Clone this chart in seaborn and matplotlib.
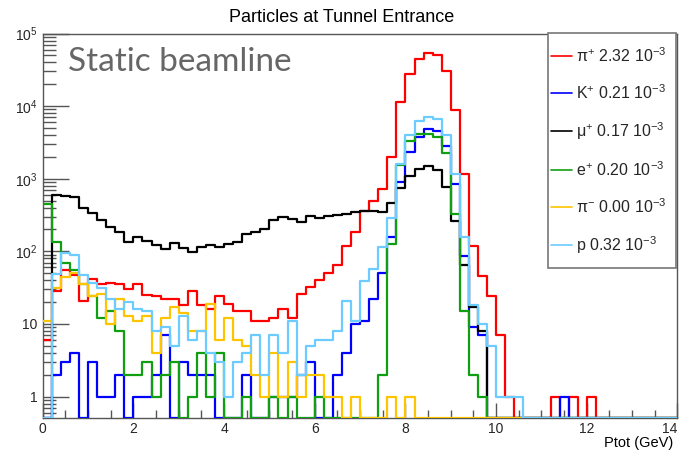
import numpy as np
import pandas as pd
import matplotlib
matplotlib.use("Agg")
import matplotlib.pyplot as plt
import seaborn as sns
from matplotlib.lines import Line2D
from matplotlib.patches import Rectangle
from matplotlib.ticker import FixedLocator, FixedFormatter, NullFormatter

# ---------------- data (counts per 0.2 GeV bin, 0 .. 14 GeV) ----------------
bin_width = 0.2
bin_edges = [round(0.2 * i, 1) for i in range(71)]
bin_centers = [e + bin_width / 2 for e in bin_edges[:-1]]

pi_plus = [6, 28, 56, 47, 21, 41, 35, 37, 35, 30,
           35, 25, 24, 22, 22, 18, 28, 18, 16, 24,
           19, 15, 15, 11, 11, 12, 16, 12, 26, 32,
           40, 51, 64, 119, 182, 362, 495, 714, 2012, 11500,
           27400, 44000, 53300, 50000, 30400, 8840, 1160, 118, 46, 24,
           7, 1, 0, 0, 0, 0, 1, 0, 1, 0,
           1, 0, 0, 0, 0, 0, 0, 0, 0, 0]
k_plus = [0, 2, 3, 4, 0, 3, 1, 1, 2, 0,
          1, 1, 2, 7, 0, 3, 2, 2, 2, 0,
          0, 0, 2, 0, 0, 1, 1, 1, 2, 3,
          0, 0, 2, 4, 10, 11, 22, 51, 159, 910,
          2355, 3790, 4880, 4580, 2820, 845, 87, 9, 7, 0,
          0, 0, 0, 0, 0, 0, 0, 1, 0, 0,
          0, 0, 0, 0, 0, 0, 0, 0, 0, 0]
mu_plus = [0, 603, 583, 554, 395, 334, 270, 218, 183, 133,
           159, 139, 122, 108, 131, 110, 97, 115, 124, 113,
           127, 136, 171, 183, 203, 270, 294, 276, 251, 310,
           285, 306, 316, 326, 351, 355, 355, 350, 458, 751,
           1100, 1346, 1513, 1325, 776, 264, 64, 17, 8, 0,
           0, 0, 0, 0, 0, 0, 0, 0, 0, 0,
           0, 0, 0, 0, 0, 0, 0, 0, 0, 0]
e_plus = [447, 136, 70, 55, 36, 24, 12, 15, 8, 2,
          2, 3, 1, 2, 3, 0, 1, 4, 1, 4,
          0, 0, 1, 0, 0, 1, 0, 1, 0, 0,
          1, 0, 0, 0, 0, 0, 0, 2, 126, 1545,
          3300, 4090, 4090, 3700, 2240, 326, 15, 2, 1, 0,
          0, 0, 0, 0, 0, 0, 0, 0, 0, 0,
          0, 0, 0, 0, 0, 0, 0, 0, 0, 0]
pi_minus = [11, 31, 44, 51, 36, 24, 26, 10, 22, 13,
            11, 13, 4, 12, 17, 14, 8, 8, 19, 6,
            12, 6, 5, 2, 1, 4, 1, 3, 1, 2,
            2, 1, 1, 0, 1, 0, 0, 0, 1, 0,
            1, 0, 0, 0, 0, 0, 0, 0, 0, 0,
            0, 0, 0, 0, 0, 0, 0, 0, 0, 0,
            0, 0, 0, 0, 0, 0, 0, 0, 0, 0]
proton = [0, 49, 96, 89, 47, 37, 31, 22, 16, 20,
          16, 15, 8, 9, 5, 13, 6, 8, 4, 3,
          1, 3, 4, 7, 2, 7, 4, 11, 2, 5,
          6, 6, 8, 21, 11, 39, 57, 116, 290, 1578,
          4000, 6300, 7000, 6580, 4000, 1160, 159, 18, 10, 5,
          1, 1, 1, 0, 0, 0, 0, 0, 0, 0,
          0, 0, 0, 0, 0, 0, 0, 0, 0, 0]

series_counts = [pi_plus, k_plus, mu_plus, e_plus, pi_minus, proton]
series_labels = [r"π$^{+}$ 2.32 10$^{-3}$",
                 r"K$^{+}$ 0.21 10$^{-3}$",
                 r"μ$^{+}$ 0.17 10$^{-3}$",
                 r"e$^{+}$ 0.20 10$^{-3}$",
                 r"π$^{-}$ 0.00 10$^{-3}$",
                 r"p 0.32 10$^{-3}$"]
series_colors = ["#ff0000", "#0000ff", "#000000", "#109f10", "#ffc400", "#6ccbff"]

x_ticks = [0, 2, 4, 6, 8, 10, 12, 14]
y_ticks = [1, 10, 100, 1000, 10000, 100000]
y_ticklabels = ["1", "10", r"$10^{2}$", r"$10^{3}$", r"$10^{4}$", r"$10^{5}$"]

# ---------------- style ----------------
sns.set_theme(style="white")
plt.rcParams["font.family"] = ["Liberation Sans", "DejaVu Sans"]
plt.rcParams["mathtext.fontset"] = "custom"
plt.rcParams["mathtext.rm"] = "Liberation Sans"
plt.rcParams["mathtext.it"] = "Liberation Sans:italic"
plt.rcParams["mathtext.bf"] = "Liberation Sans:bold"

W, H = 683, 450
fig = plt.figure(figsize=(W / 100, H / 100), dpi=100)
fig.patch.set_facecolor("white")
x0, x1, ytop, ybot = 42.7, 677.5, 33.5, 418.0
ax = fig.add_axes([x0 / W, 1 - ybot / H, (x1 - x0) / W, (ybot - ytop) / H])
ax.set_yscale("log")
y_floor = 10 ** (-(ybot - 396.5) / 72.6)
ax.set_xlim(0, 14)
ax.set_ylim(y_floor, 1e5)

for counts, color in zip(series_counts, series_colors):
    df = pd.DataFrame({"ptot": bin_centers,
                       "count": np.maximum(np.asarray(counts, float), y_floor)})
    sns.histplot(data=df, x="ptot", weights="count", bins=bin_edges,
                 element="step", fill=False, color=color, linewidth=1.6,
                 ax=ax, zorder=3)

ax.set_xlim(0, 14)
ax.set_ylim(y_floor, 1e5)
ax.set_xlabel("")
ax.set_ylabel("")

for s in ax.spines.values():
    s.set_color("#555555")
    s.set_linewidth(1.0)

ax.xaxis.set_major_locator(FixedLocator(x_ticks))
ax.xaxis.set_minor_locator(FixedLocator(np.arange(0, 14.01, 0.5)))
ax.yaxis.set_major_locator(FixedLocator(y_ticks))
minor_y = [m * 10 ** e for e in range(-1, 5) for m in range(2, 10) if y_floor <= m * 10 ** e <= 1e5]
ax.yaxis.set_minor_locator(FixedLocator(minor_y))
ax.yaxis.set_major_formatter(FixedFormatter(y_ticklabels))
ax.yaxis.set_minor_formatter(NullFormatter())
ax.tick_params(axis="x", which="major", direction="in", length=11, width=1, color="#555555",
               labelsize=10, pad=3, bottom=True, top=False)
ax.tick_params(axis="x", which="minor", direction="in", length=5.5, width=1, color="#555555",
               bottom=True, top=False)
ax.tick_params(axis="y", which="major", direction="in", length=19, width=1, color="#555555",
               labelsize=10, pad=4, left=True, right=False)
ax.tick_params(axis="y", which="minor", direction="in", length=9, width=1, color="#555555",
               left=True, right=False)
# keep the last x label inside the canvas, as ROOT does
xlabels = ax.get_xticklabels()
xlabels[-1].set_horizontalalignment("right")
xlabels[-1].set_x(13.86)

# title and labels
fig.text(341.5 / W, 1 - 18 / H, "Particles at Tunnel Entrance", ha="center", va="center",
         fontsize=13, color="black")
fig.text(673 / W, 1 - 443 / H, "Ptot (GeV)", ha="right", va="center", fontsize=10.5, color="black")
fig.text(68 / W, 1 - 62 / H, "Static beamline", ha="left", va="center", fontsize=24,
         color="#666666", family="Lato")

# legend
box = Rectangle((548 / W, 1 - 268 / H), (676 - 548) / W, (268 - 33) / H,
                transform=fig.transFigure, facecolor="white", edgecolor="#777777",
                linewidth=1.2, zorder=5)
fig.add_artist(box)
handles = [Line2D([0], [0], color=c, linewidth=1.2) for c in series_colors]
fs = 11.5
leg = fig.legend(handles, series_labels, loc="upper left",
                 bbox_to_anchor=(551 / W, 1 - 46 / H), bbox_transform=fig.transFigure,
                 frameon=False, fontsize=fs, borderpad=0, borderaxespad=0,
                 handlelength=1.3, handletextpad=0.25, labelspacing=1.15)
leg.set_zorder(6)

fig.savefig("out.png", dpi=100, facecolor="white")
